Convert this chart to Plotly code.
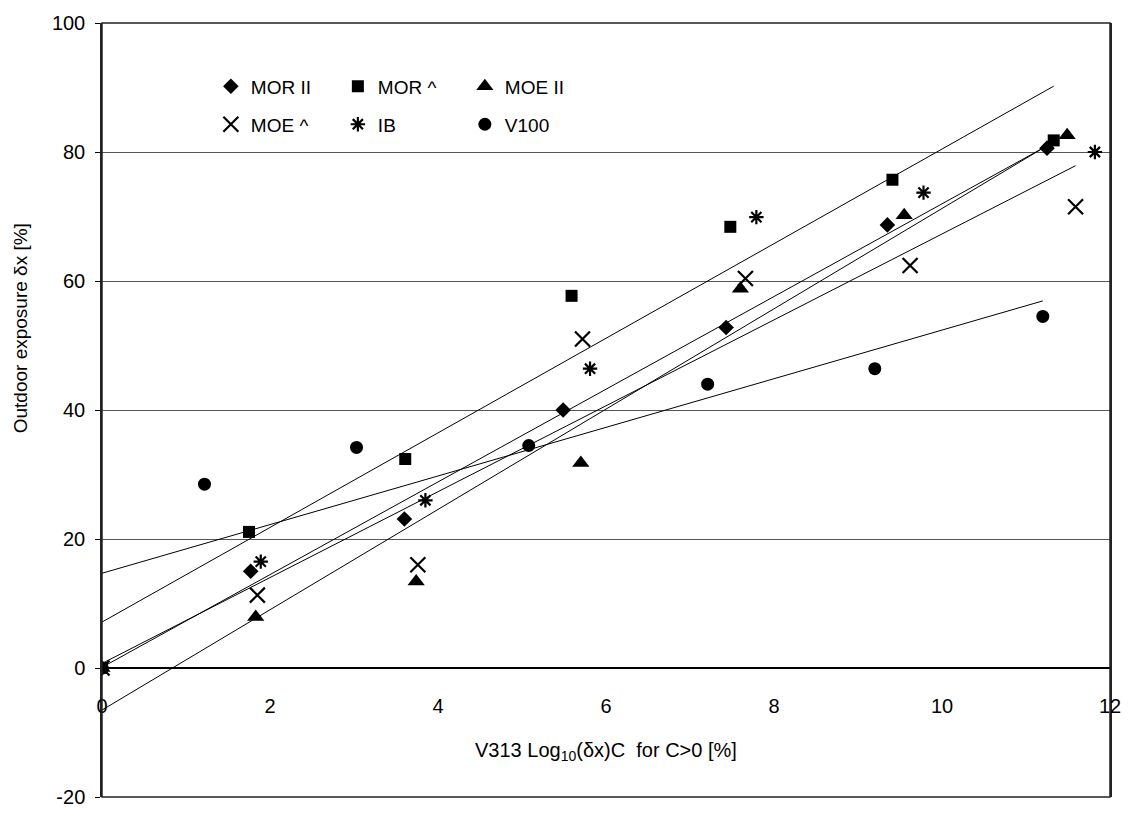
import numpy as np
import plotly.graph_objects as go

# ---- data ----
mor_ii_x = [0, 1.77, 3.60, 5.49, 7.43, 9.35, 11.25]
mor_ii_y = [0, 15.0, 23.1, 40.0, 52.8, 68.7, 80.6]

mor_perp_x = [0, 1.75, 3.61, 5.59, 7.48, 9.41, 11.33]
mor_perp_y = [0, 21.1, 32.4, 57.7, 68.4, 75.7, 81.8]

moe_ii_x = [0, 1.83, 3.74, 5.70, 7.60, 9.55, 11.49]
moe_ii_y = [0, 7.9, 13.4, 31.8, 58.8, 70.2, 82.6]

moe_perp_x = [0, 1.85, 3.76, 5.72, 7.66, 9.62, 11.59]
moe_perp_y = [0, 11.3, 16.0, 51.0, 60.4, 62.4, 71.5]

ib_x = [0, 1.89, 3.85, 5.81, 7.79, 9.78, 11.82]
ib_y = [0, 16.5, 26.0, 46.4, 69.9, 73.7, 80.0]

v100_x = [0, 1.22, 3.03, 5.08, 7.21, 9.20, 11.20]
v100_y = [0, 28.5, 34.2, 34.5, 44.0, 46.4, 54.5]

x_ticks = [0, 2, 4, 6, 8, 10, 12]
y_ticks = [-20, 0, 20, 40, 60, 80, 100]

series = [
    ("MOR II", mor_ii_x, mor_ii_y, "diamond", 12, True, "legend"),
    ("MOR ^", mor_perp_x, mor_perp_y, "square", 12, True, "legend"),
    ("MOE II", moe_ii_x, moe_ii_y, "triangle-up", 15, True, "legend"),
    ("MOE ^", moe_perp_x, moe_perp_y, "x-thin-open", 15, True, "legend2"),
    ("IB", ib_x, ib_y, "asterisk-open", 12, False, "legend2"),
    ("V100", v100_x, v100_y, "circle", 13, True, "legend2"),
]

FONT = "Liberation Sans, Arial, sans-serif"
fig = go.Figure()

# linear trendlines (least squares), drawn from 0 to max x of each series
for name, xs, ys, sym, size, trend, lg in series:
    if not trend:
        continue
    slope, intercept = np.polyfit(xs, ys, 1)
    x_line = np.array([min(xs), max(xs)])
    fig.add_trace(go.Scatter(
        x=x_line, y=slope * x_line + intercept, mode="lines",
        line=dict(color="black", width=1), showlegend=False, hoverinfo="skip"))

for name, xs, ys, sym, size, trend, lg in series:
    open_sym = sym.endswith("open")
    fig.add_trace(go.Scatter(
        x=xs, y=ys, mode="markers", name=name, legend=lg,
        marker=dict(symbol=sym, size=size, color="black",
                    line=dict(color="black", width=2.2 if open_sym else 0))))

fig.update_layout(
    width=1132, height=819,
    margin=dict(l=102, r=15, t=23, b=11),
    paper_bgcolor="white", plot_bgcolor="white",
    font=dict(family=FONT, size=20, color="black"),
    showlegend=True,
    legend=dict(orientation="h", x=0.108, y=0.918, xanchor="left", yanchor="middle",
                font=dict(size=19), bgcolor="rgba(0,0,0,0)", itemwidth=30,
                entrywidth=82, entrywidthmode="pixels", tracegroupgap=0),
    legend2=dict(orientation="h", x=0.108, y=0.869, xanchor="left", yanchor="middle",
                 font=dict(size=19), bgcolor="rgba(0,0,0,0)", itemwidth=30,
                 entrywidth=82, entrywidthmode="pixels", tracegroupgap=0),
    xaxis=dict(range=[0, 12], tickvals=x_ticks, ticktext=[str(v) for v in x_ticks],
               anchor="free", position=20 / 120, showline=True, linecolor="black",
               linewidth=1.5, showgrid=False, zeroline=False, ticks="",
               ticklabelstandoff=20, tickfont=dict(size=20)),
    yaxis=dict(range=[-20, 100], tickvals=y_ticks, ticktext=[str(v) for v in y_ticks],
               showline=True, mirror=True, linecolor="#222", linewidth=1.5,
               showgrid=True, gridcolor="#555", gridwidth=1.2, zeroline=False,
               ticks="outside", ticklen=5, tickcolor="black", tickwidth=1,
               ticklabelstandoff=6, tickfont=dict(size=20)),
    shapes=[dict(type="rect", xref="paper", yref="paper", x0=0, y0=0, x1=1, y1=1,
                 line=dict(color="#222", width=1.5), fillcolor="rgba(0,0,0,0)")],
    annotations=[
        dict(text="V313 Log<sub>10</sub>(δx)C&nbsp; for C>0 [%]", xref="paper", yref="paper",
             x=0.5, y=0.0586, xanchor="center", yanchor="middle", showarrow=False,
             font=dict(size=20)),
        dict(text="Outdoor exposure δx [%]", xref="paper", yref="paper",
             x=-0.0808, y=0.605, xanchor="center", yanchor="middle", textangle=-90,
             showarrow=False, font=dict(size=19)),
    ],
)

fig.write_html("out.html")
